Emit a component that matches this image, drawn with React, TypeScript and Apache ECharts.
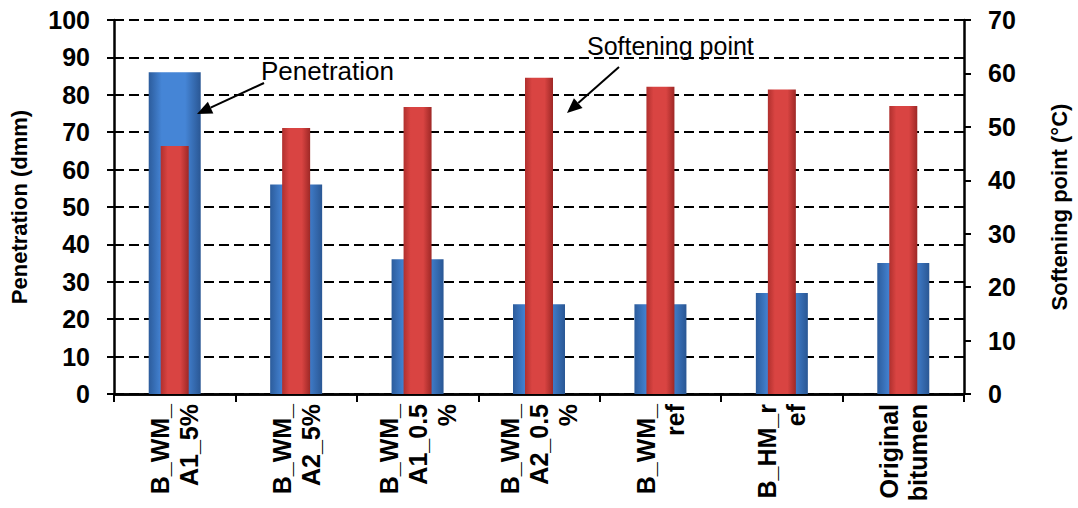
import React, { useEffect, useRef } from "react";
import * as echarts from "echarts";

const categories = [
  "B_WM_\nA1_5%",
  "B_WM_\nA2_5%",
  "B_WM_\nA1_0.5\n%",
  "B_WM_\nA2_0.5\n%",
  "B_WM_\nref",
  "B_HM_r\nef",
  "Original\nbitumen",
];
const penetration = [86, 56, 36, 24, 24, 27, 35];
const softeningPoint = [46.4, 49.8, 53.7, 59.2, 57.5, 57.0, 53.9];
const leftAxisName = "Penetration (dmm)";
const rightAxisName = "Softening point (°C)";

const FONT = "Liberation Sans, Arial, sans-serif";

function arrow(x1: number, y1: number, x2: number, y2: number) {
  const dx = x2 - x1;
  const dy = y2 - y1;
  const len = Math.sqrt(dx * dx + dy * dy);
  const ux = dx / len;
  const uy = dy / len;
  const hl = 15;
  const hw = 6.5;
  const bx = x2 - ux * hl;
  const by = y2 - uy * hl;
  const px = -uy * hw;
  const py = ux * hw;
  return [
    {
      type: "line",
      shape: { x1, y1, x2: bx, y2: by },
      style: { stroke: "#000", lineWidth: 2 },
      z: 100,
    },
    {
      type: "polygon",
      shape: {
        points: [
          [x2, y2],
          [bx + px, by + py],
          [bx - px, by - py],
        ],
      },
      style: { fill: "#000" },
      z: 100,
    },
  ];
}

function barGradient(edge: string, mid: string, edge2: string) {
  return new echarts.graphic.LinearGradient(0, 0, 1, 0, [
    { offset: 0, color: edge },
    { offset: 0.25, color: mid },
    { offset: 0.7, color: mid },
    { offset: 1, color: edge2 },
  ]);
}

export default function App() {
  const ref = useRef<HTMLDivElement>(null);

  useEffect(() => {
    if (!ref.current) return;
    const chart = echarts.init(ref.current, undefined, { renderer: "svg" });
    const axisLabelStyle = {
      color: "#000",
      fontFamily: FONT,
      fontWeight: "bold" as const,
      fontSize: 25,
    };
    const nameStyle = {
      color: "#000",
      fontFamily: FONT,
      fontWeight: "bold" as const,
      fontSize: 22,
    };
    chart.setOption({
      animation: false,
      backgroundColor: "#fff",
      grid: { left: 106, right: 101, top: 20, bottom: 114, containLabel: false },
      xAxis: [
        {
          type: "category",
          data: categories,
          position: "bottom",
          axisLine: { show: true, lineStyle: { color: "#000", width: 2.5 } },
          axisTick: {
            show: true,
            length: 8,
            inside: false,
            lineStyle: { color: "#000", width: 2 },
          },
          axisLabel: {
            ...axisLabelStyle,
            fontSize: 25,
            rotate: 90,
            margin: 10,
            interval: 0,
            lineHeight: 29,
          },
          splitLine: { show: false },
        },
        {
          type: "category",
          data: categories,
          position: "top",
          axisLine: { show: true, lineStyle: { color: "#000", width: 2.5 } },
          axisTick: { show: false },
          axisLabel: { show: false },
          splitLine: { show: false },
        },
      ],
      yAxis: [
        {
          type: "value",
          min: 0,
          max: 100,
          interval: 10,
          position: "left",
          name: leftAxisName,
          nameLocation: "middle",
          nameGap: 84,
          nameRotate: 90,
          nameTextStyle: nameStyle,
          axisLine: { show: true, lineStyle: { color: "#000", width: 2.5 } },
          axisTick: {
            show: true,
            length: 7,
            lineStyle: { color: "#000", width: 2 },
          },
          axisLabel: { ...axisLabelStyle, margin: 24 },
          splitLine: {
            show: true,
            lineStyle: { color: "#000", width: 2, type: [10, 5] },
          },
        },
        {
          type: "value",
          min: 0,
          max: 70,
          interval: 10,
          position: "right",
          name: rightAxisName,
          nameLocation: "middle",
          nameGap: 84,
          nameRotate: 90,
          nameTextStyle: nameStyle,
          axisLine: { show: true, lineStyle: { color: "#000", width: 2.5 } },
          axisTick: {
            show: true,
            length: 7,
            lineStyle: { color: "#000", width: 2 },
          },
          axisLabel: { ...axisLabelStyle, margin: 24 },
          splitLine: { show: false },
        },
      ],
      series: [
        {
          name: "Penetration",
          type: "bar",
          xAxisIndex: 0,
          yAxisIndex: 0,
          data: penetration,
          barWidth: 52,
          itemStyle: {
            color: barGradient("#2C5C9C", "#4585D6", "#2A5794"),
          },
          z: 2,
        },
        {
          name: "Softening point",
          type: "bar",
          xAxisIndex: 1,
          yAxisIndex: 1,
          data: softeningPoint,
          barWidth: 28,
          itemStyle: {
            color: barGradient("#B0302E", "#D94442", "#9E2826"),
          },
          z: 3,
        },
      ],
      graphic: [
        {
          type: "text",
          left: 261,
          top: 58,
          style: {
            text: "Penetration",
            font: `26px ${FONT}`,
            fill: "#000",
          },
          z: 100,
        },
        {
          type: "text",
          left: 587,
          top: 33,
          style: {
            text: "Softening point",
            font: `25px ${FONT}`,
            fill: "#000",
          },
          z: 100,
        },
        ...arrow(264, 83, 197, 114),
        ...arrow(619, 67, 567, 113),
      ],
    });
    return () => chart.dispose();
  }, []);

  return (
    <div
      ref={ref}
      style={{ position: "fixed", left: 0, top: 0, width: 1078, height: 508 }}
    />
  );
}
